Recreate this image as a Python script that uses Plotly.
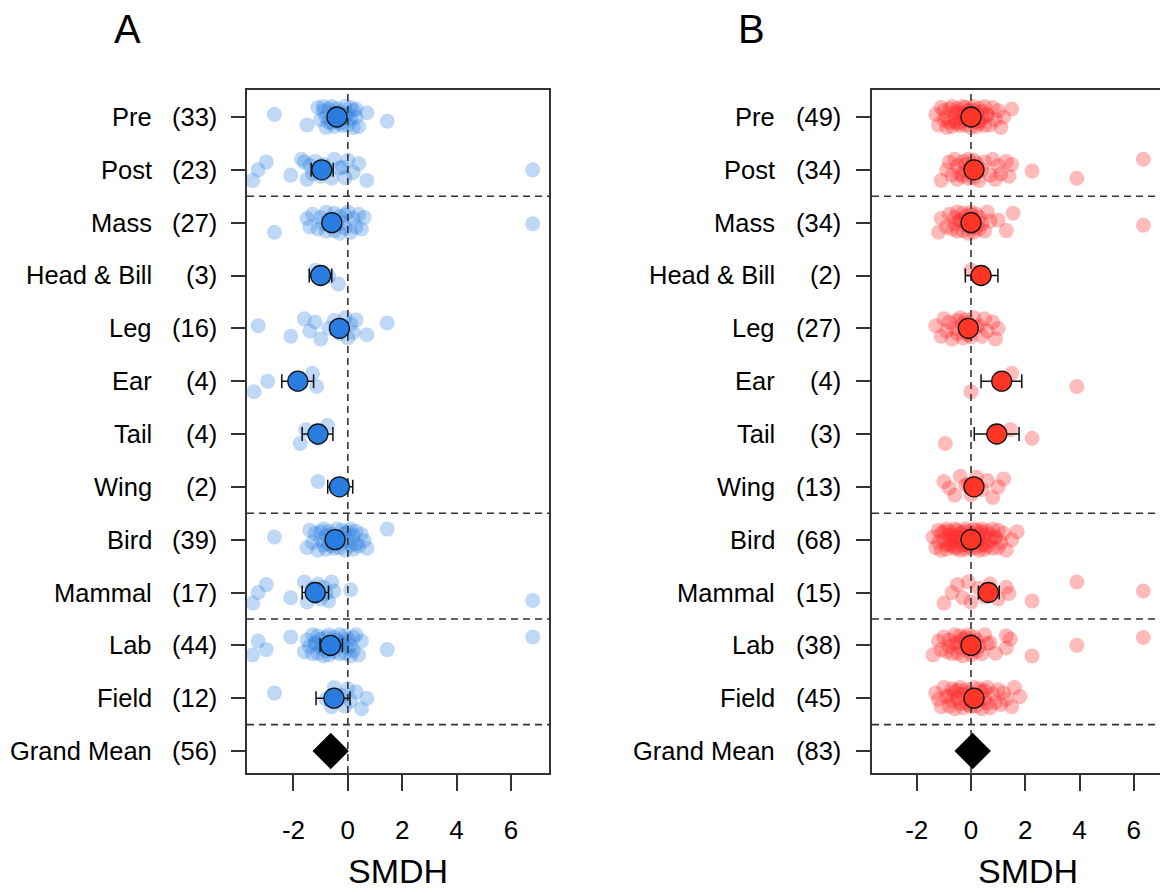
import plotly.graph_objects as go

# The page body adds an 8px margin, so the figure is 8px smaller and all
# reference pixel positions are shifted by 8px.
OFF = 8
W, H = 1168 - OFF, 893 - OFF

ROWS = ["Pre", "Post", "Mass", "Head & Bill", "Leg", "Ear", "Tail", "Wing",
        "Bird", "Mammal", "Lab", "Field", "Grand Mean"]
TICK_VALS = [-2, 0, 2, 4, 6]
TICK_TEXT = ["-2", "0", "2", "4", "6"]

# ---------------- Panel A ----------------
A_COUNTS = [33, 23, 27, 3, 16, 4, 4, 2, 39, 17, 44, 12, 56]
A_MEAN = [-0.40, -0.96, -0.59, -1.00, -0.31, -1.84, -1.10, -0.31, -0.47, -1.20, -0.64, -0.51]
A_LO = [-0.62, -1.35, -0.85, -1.42, -0.60, -2.43, -1.68, -0.74, -0.68, -1.68, -1.02, -1.17]
A_HI = [-0.18, -0.54, -0.33, -0.59, -0.02, -1.26, -0.55, 0.18, -0.26, -0.71, -0.20, 0.08]
A_GRAND = -0.63

A_PRE = [-2.7, -1.5, -1.1, -1.0, -0.9, -0.8, -0.8, -0.7, -0.6, -0.6, -0.5, -0.5, -0.4, -0.4, -0.3,
         -0.3, -0.2, -0.2, -0.1, -0.1, 0.0, 0.0, 0.1, 0.1, 0.2, 0.2, 0.3, 0.3, -0.7, -0.9, 0.4, 0.7, 1.45]
A_POST = [-3.5, -3.3, -3.0, -2.1, -1.7, -1.5, -1.4, -1.3, -1.2, -1.0, -0.9, -0.8, -0.6, -0.5, -0.3,
          -0.2, -0.1, 0.0, 0.2, 0.4, 0.7, 6.8, -1.6]
A_MASS = [-2.7, -1.5, -1.4, -1.3, -1.1, -1.0, -0.9, -0.8, -0.8, -0.7, -0.6, -0.5, -0.5, -0.4, -0.3,
          -0.3, -0.2, -0.1, -0.1, 0.0, 0.1, 0.2, 0.3, 0.4, 0.5, 0.6, 6.8]
A_HEAD = [-1.2, -0.7, -0.35]
A_LEG = [-3.3, -2.1, -1.6, -1.4, -1.2, -1.0, -0.7, -0.5, -0.3, -0.1, 0.0, 0.1, 0.2, 0.3, 0.7, 1.45]
A_EAR = [-3.45, -2.95, -1.3, -1.15]
A_TAIL = [-1.75, -1.55, -1.1, -0.75]
A_WING = [-1.1, -0.2]
A_BIRD = [-2.7, -1.5, -1.4, -1.3, -1.2, -1.1, -1.0, -1.0, -0.9, -0.9, -0.8, -0.8, -0.7, -0.7, -0.6,
          -0.6, -0.5, -0.5, -0.4, -0.4, -0.3, -0.3, -0.2, -0.2, -0.1, -0.1, 0.0, 0.0, 0.1, 0.1,
          0.2, 0.2, 0.3, 0.3, 0.4, 0.5, 0.6, 0.7, 1.45]
A_MAMMAL = [-3.5, -3.3, -3.0, -2.1, -1.6, -1.5, -1.3, -1.2, -1.1, -1.0, -0.9, -0.8, -0.7, -0.6,
            -0.5, 0.1, 6.8]
A_LAB = [-3.5, -3.3, -3.0, -2.1, -1.6, -1.5, -1.4, -1.3, -1.3, -1.2, -1.2, -1.1, -1.1, -1.0, -1.0,
         -0.9, -0.9, -0.8, -0.8, -0.7, -0.7, -0.6, -0.6, -0.5, -0.5, -0.4, -0.4, -0.3, -0.3, -0.2,
         -0.2, -0.1, -0.1, 0.0, 0.0, 0.1, 0.1, 0.2, 0.2, 0.3, 0.4, 0.5, 1.45, 6.8]
A_FIELD = [-2.7, -0.8, -0.6, -0.5, -0.4, -0.2, -0.1, 0.0, 0.1, 0.3, 0.5, 0.7]

# ---------------- Panel B ----------------
B_COUNTS = [49, 34, 34, 2, 27, 4, 3, 13, 68, 15, 38, 45, 83]
B_MEAN = [0.00, 0.11, 0.00, 0.37, -0.10, 1.13, 0.95, 0.11, 0.00, 0.64, 0.00, 0.11]
B_LO = [-0.15, -0.12, -0.20, -0.21, -0.30, 0.37, 0.12, -0.15, -0.15, 0.27, -0.18, -0.10]
B_HI = [0.15, 0.34, 0.20, 0.99, 0.10, 1.87, 1.77, 0.37, 0.15, 1.04, 0.18, 0.32]
B_GRAND = 0.06

B_PRE = [-1.3, -1.2, -1.1, -1.0, -1.0, -0.9, -0.9, -0.8, -0.8, -0.7, -0.7, -0.6, -0.6, -0.5, -0.5,
         -0.5, -0.4, -0.4, -0.3, -0.3, -0.3, -0.2, -0.2, -0.1, -0.1, 0.0, 0.0, 0.0, 0.1, 0.1, 0.2,
         0.2, 0.3, 0.3, 0.3, 0.4, 0.4, 0.5, 0.5, 0.6, 0.6, 0.7, 0.8, 0.9, 1.0, 1.1, 1.2, 1.5, -0.4]
B_POST = [-1.1, -0.9, -0.8, -0.7, -0.6, -0.5, -0.5, -0.4, -0.3, -0.3, -0.2, -0.2, -0.1, -0.1, 0.0,
          0.0, 0.1, 0.1, 0.2, 0.2, 0.3, 0.4, 0.5, 0.7, 0.8, 0.9, 1.0, 1.1, 1.3, 1.4, 1.5, 2.25,
          3.9, 6.35]
B_MASS = [-1.2, -1.1, -0.9, -0.8, -0.7, -0.6, -0.6, -0.5, -0.5, -0.4, -0.4, -0.3, -0.3, -0.2, -0.2,
          -0.1, -0.1, 0.0, 0.0, 0.0, 0.1, 0.1, 0.2, 0.2, 0.3, 0.3, 0.4, 0.5, 0.6, 0.7, 1.0, 1.3,
          1.55, 6.35]
B_HEAD = [0.0, 0.5]
B_LEG = [-1.3, -1.1, -1.0, -0.9, -0.8, -0.7, -0.6, -0.5, -0.5, -0.4, -0.3, -0.3, -0.2, -0.2, -0.1,
         -0.1, 0.0, 0.0, 0.1, 0.2, 0.3, 0.4, 0.5, 0.6, 0.8, 0.9, 1.0]
B_EAR = [0.0, 1.1, 1.5, 3.9]
B_TAIL = [-0.95, 1.45, 2.25]
B_WING = [-1.0, -0.8, -0.6, -0.4, -0.2, -0.1, 0.0, 0.2, 0.4, 0.6, 0.8, 1.0, 1.2]
B_BIRD = [-1.4, -1.3, -1.2, -1.2, -1.1, -1.1, -1.0, -1.0, -0.9, -0.9, -0.9, -0.8, -0.8, -0.8, -0.7,
          -0.7, -0.7, -0.6, -0.6, -0.6, -0.5, -0.5, -0.5, -0.4, -0.4, -0.4, -0.3, -0.3, -0.3, -0.2,
          -0.2, -0.2, -0.1, -0.1, -0.1, 0.0, 0.0, 0.0, 0.1, 0.1, 0.1, 0.2, 0.2, 0.2, 0.3, 0.3, 0.3,
          0.4, 0.4, 0.4, 0.5, 0.5, 0.5, 0.6, 0.6, 0.7, 0.7, 0.8, 0.8, 0.9, 0.9, 1.0, 1.0, 1.1, 1.2,
          1.3, 1.5, 1.7]
B_MAMMAL = [-1.0, -0.7, -0.5, -0.3, -0.1, 0.0, 0.3, 0.5, 0.7, 1.0, 1.3, 1.4, 2.25, 3.9, 6.35]
B_LAB = [-1.4, -1.2, -1.1, -1.0, -0.9, -0.8, -0.8, -0.7, -0.6, -0.6, -0.5, -0.5, -0.4, -0.4, -0.3,
         -0.3, -0.2, -0.2, -0.1, -0.1, 0.0, 0.0, 0.1, 0.1, 0.2, 0.2, 0.3, 0.4, 0.5, 0.6, 0.7, 0.9,
         1.3, 1.3, 1.45, 2.25, 3.9, 6.35]
B_FIELD = [-1.3, -1.2, -1.1, -1.0, -0.9, -0.8, -0.8, -0.7, -0.7, -0.6, -0.6, -0.5, -0.5, -0.4, -0.4,
           -0.3, -0.3, -0.2, -0.2, -0.1, -0.1, 0.0, 0.0, 0.1, 0.1, 0.2, 0.2, 0.3, 0.3, 0.4, 0.4, 0.5,
           0.5, 0.6, 0.6, 0.7, 0.8, 0.9, 1.0, 1.1, 1.2, 1.3, 1.5, 1.6, 1.8]

A_POINTS = [A_PRE, A_POST, A_MASS, A_HEAD, A_LEG, A_EAR, A_TAIL, A_WING, A_BIRD, A_MAMMAL, A_LAB, A_FIELD]
B_POINTS = [B_PRE, B_POST, B_MASS, B_HEAD, B_LEG, B_EAR, B_TAIL, B_WING, B_BIRD, B_MAMMAL, B_LAB, B_FIELD]


# ---------------- styling / layout ----------------
def px2x(px):
    return (px - OFF) / W


def py2y(py):
    return 1 - (py - OFF) / H


FONT = "Arial, Liberation Sans, sans-serif"
LINE_C = "#333333"
DASH = "7px,5px"
JITTER = [0.05, -0.15, 0.18, -0.05, 0.12, -0.2, 0.0, 0.15, -0.1, 0.2, -0.18, 0.08,
          -0.08, 0.16, -0.12, 0.1, -0.02, -0.16, 0.2, 0.03]
SEPS = [11.5, 5.5, 3.5, 1.5]
Y_RANGE = [0.584, 13.511]
A_XRANGE = [-3.71, 7.40]
B_XRANGE = [-3.65, 7.26]
Y_DOM = [py2y(773), py2y(90)]
A_DOM = [px2x(247), px2x(549)]
B_DOM = [px2x(872), 1.0]

fig = go.Figure()
NROW = len(ROWS)
YS = [NROW - i for i in range(NROW)]


def add_panel(xa, ya, xr, points, means, lo, hi, grand, pt_color, mean_color):
    px, py = [], []
    for i, vals in enumerate(points):
        for j, v in enumerate(vals):
            px.append(v)
            py.append(YS[i] + JITTER[(j + 5 * i) % len(JITTER)])
    fig.add_trace(go.Scatter(x=px, y=py, mode="markers", xaxis=xa, yaxis=ya,
                             marker=dict(size=15, color=pt_color, line=dict(width=0)),
                             hoverinfo="skip", showlegend=False))
    # zero line
    fig.add_trace(go.Scatter(x=[0, 0], y=Y_RANGE, mode="lines", xaxis=xa, yaxis=ya,
                             line=dict(color=LINE_C, width=1.6, dash=DASH),
                             hoverinfo="skip", showlegend=False))
    for s in SEPS:
        fig.add_trace(go.Scatter(x=xr, y=[s, s], mode="lines", xaxis=xa, yaxis=ya,
                                 line=dict(color=LINE_C, width=1.6, dash=DASH),
                                 hoverinfo="skip", showlegend=False))
    fig.add_trace(go.Scatter(
        x=means, y=YS[:len(means)], mode="markers", xaxis=xa, yaxis=ya,
        error_x=dict(type="data", symmetric=False,
                     array=[h - m for h, m in zip(hi, means)],
                     arrayminus=[m - l for m, l in zip(means, lo)],
                     color="#111111", thickness=1.5, width=7),
        marker=dict(size=20, color=mean_color, line=dict(color="#111111", width=1.3)),
        showlegend=False))
    fig.add_trace(go.Scatter(x=[grand], y=[1], mode="markers", xaxis=xa, yaxis=ya,
                             marker=dict(symbol="diamond", size=28, color="black",
                                         line=dict(width=0)),
                             showlegend=False))


add_panel("x", "y", A_XRANGE, A_POINTS, A_MEAN, A_LO, A_HI, A_GRAND,
          "rgba(40,125,225,0.30)", "#2A7DE0")
add_panel("x2", "y2", B_XRANGE, B_POINTS, B_MEAN, B_LO, B_HI, B_GRAND,
          "rgba(255,40,40,0.32)", "#FF3526")

xcommon = dict(showline=True, linecolor=LINE_C, linewidth=1.5, mirror=True,
               ticks="outside", ticklen=16, tickwidth=1.5, tickcolor=LINE_C,
               tickmode="array", tickvals=TICK_VALS, ticktext=TICK_TEXT,
               tickfont=dict(family=FONT, size=26, color="black"),
               showgrid=False, zeroline=False, ticklabelstandoff=17)
ycommon = dict(showline=True, linecolor=LINE_C, linewidth=1.5,
               ticks="outside", ticklen=14, tickwidth=1.5, tickcolor=LINE_C,
               tickmode="array", tickvals=YS, showticklabels=False,
               showgrid=False, zeroline=False, range=Y_RANGE, domain=Y_DOM)

fig.update_layout(
    width=W, height=H, margin=dict(l=0, r=0, t=0, b=0),
    paper_bgcolor="white", plot_bgcolor="white",
    xaxis=dict(xcommon, domain=A_DOM, range=A_XRANGE, anchor="y"),
    yaxis=dict(ycommon, mirror=True, anchor="x"),
    xaxis2=dict(xcommon, domain=B_DOM, range=B_XRANGE, anchor="y2"),
    yaxis2=dict(ycommon, mirror=False, anchor="x2"),
    showlegend=False,
)

ann = []
for name_x, cnt_x, counts, yref in [(154, 219, A_COUNTS, "y"), (777, 843, B_COUNTS, "y2")]:
    for i, r in enumerate(ROWS):
        ann.append(dict(x=px2x(name_x), xref="paper", y=YS[i], yref=yref, text=r,
                        xanchor="right", yanchor="middle", showarrow=False,
                        font=dict(family=FONT, size=25.5, color="black")))
        ann.append(dict(x=px2x(cnt_x), xref="paper", y=YS[i], yref=yref, text=f"({counts[i]})",
                        xanchor="right", yanchor="middle", showarrow=False,
                        font=dict(family=FONT, size=25.5, color="black")))
for label, cx in [("A", 127), ("B", 751)]:
    ann.append(dict(x=px2x(cx), xref="paper", y=py2y(29), yref="paper", text=label,
                    xanchor="center", yanchor="middle", showarrow=False, borderpad=0,
                    font=dict(family=FONT, size=40, color="black")))
for cx in [398, 1028]:
    ann.append(dict(x=px2x(cx), xref="paper", y=py2y(871), yref="paper", text="SMDH",
                    xanchor="center", yanchor="middle", showarrow=False, borderpad=0,
                    font=dict(family=FONT, size=34, color="black")))
fig.update_layout(annotations=ann)

fig.write_html("out.html")
